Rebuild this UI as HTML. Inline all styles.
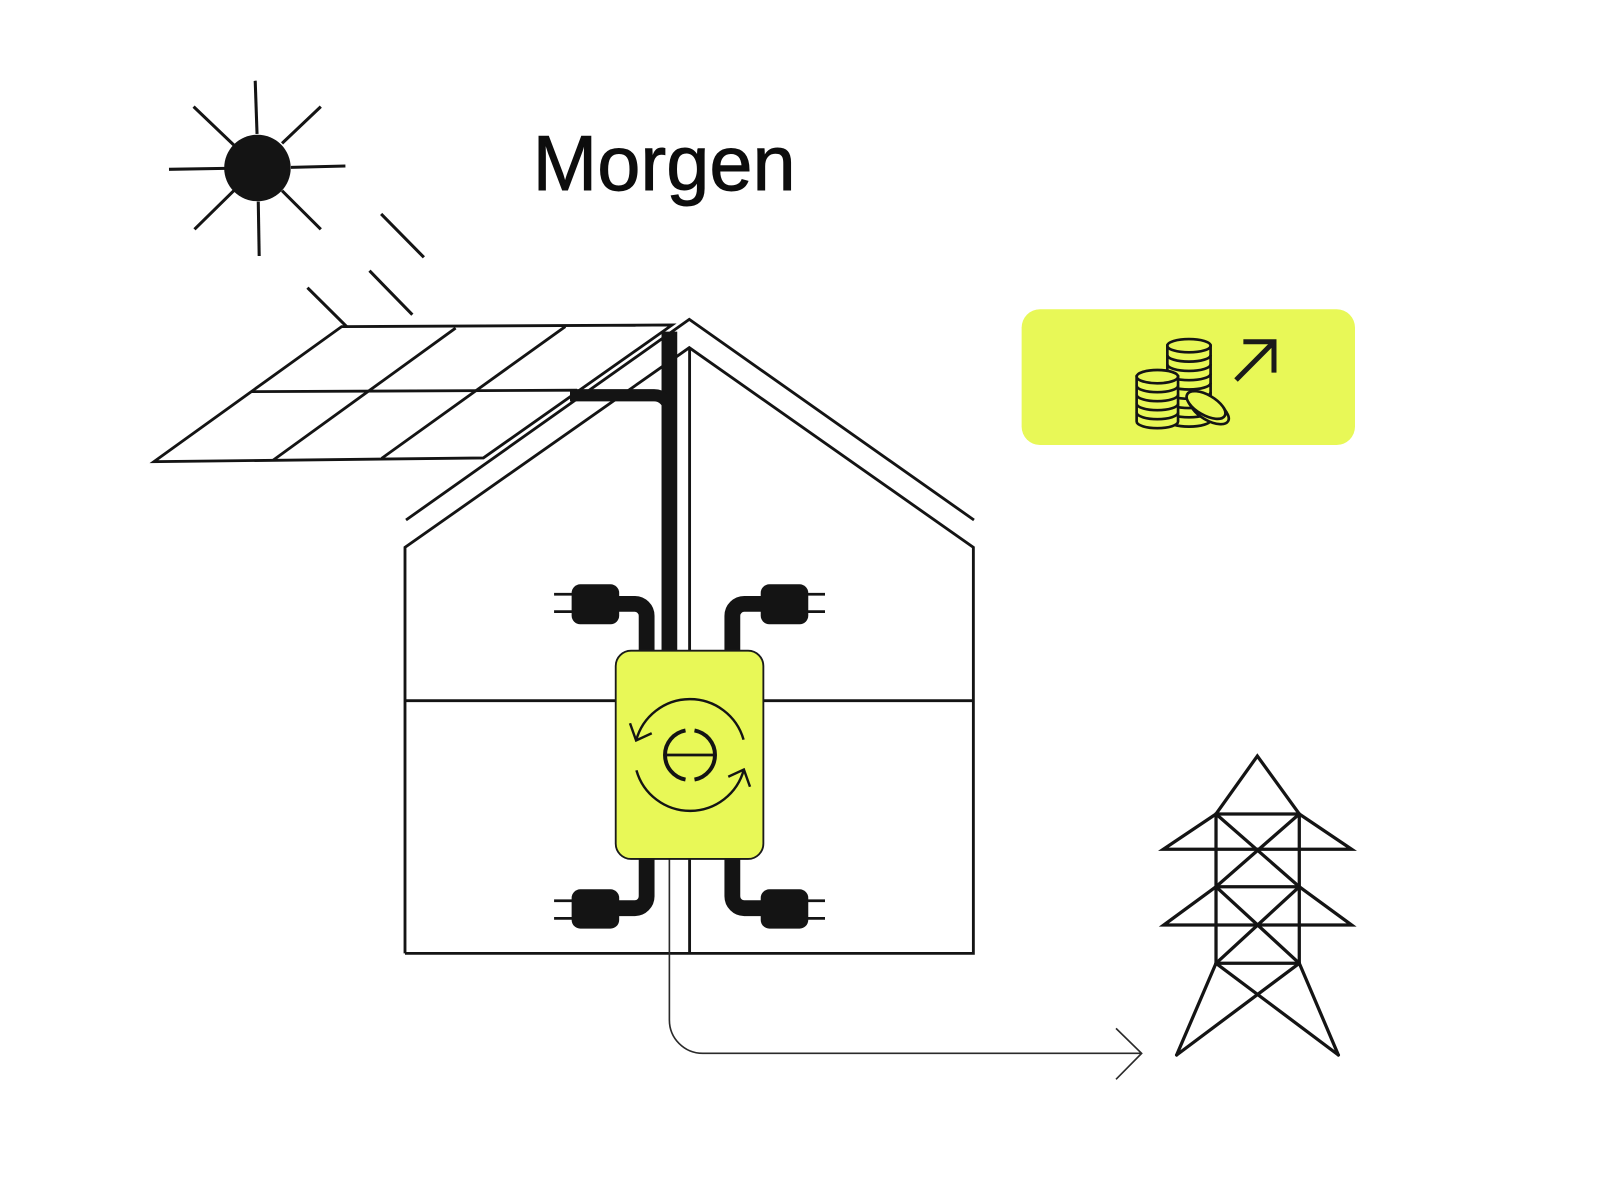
<!DOCTYPE html>
<html>
<head>
<meta charset="utf-8">
<style>
  html,body{margin:0;padding:0;background:#fff;}
  svg{display:block;}
</style>
</head>
<body>
<svg width="1600" height="1200" viewBox="0 0 1568 1176" xmlns="http://www.w3.org/2000/svg">
  <rect x="0" y="0" width="1568" height="1176" fill="#ffffff"/>

  <!-- Title -->
  <text x="522" y="186.2" font-family="Liberation Sans, Arial, sans-serif" font-size="76" fill="#0d0d0d" stroke="#0d0d0d" stroke-width="0.9">Morgen</text>

  <!-- Sun -->
  <g stroke="#141414" stroke-width="3" stroke-linecap="butt" fill="none">
    <line x1="250.1" y1="79.1" x2="251.9" y2="131.3"/>
    <line x1="253.1" y1="197.6" x2="254" y2="250.9"/>
    <line x1="165.6" y1="165.9" x2="220.3" y2="165"/>
    <line x1="285.1" y1="164" x2="338.5" y2="162.7"/>
    <line x1="189.7" y1="104.5" x2="229.1" y2="142.1"/>
    <line x1="314.4" y1="104.5" x2="276.4" y2="140.5"/>
    <line x1="190.6" y1="224.7" x2="229.1" y2="186.9"/>
    <line x1="314.4" y1="224.7" x2="276.4" y2="186.9"/>
    <!-- light dashes -->
    <line x1="373.5" y1="209.7" x2="415.4" y2="252.2"/>
    <line x1="362.1" y1="265.3" x2="404.1" y2="308.4"/>
    <line x1="301.3" y1="281.9" x2="339.7" y2="320"/>
  </g>
  <circle cx="252.3" cy="164.6" r="32.6" fill="#141414"/>

  <!-- Solar panel -->
  <g stroke="#141414" stroke-width="2.8" fill="none" stroke-linejoin="miter">
    <polygon points="334.8,320.1 658.6,318.5 473.7,448.8 150.9,452.4"/>
    <line x1="246" y1="383.8" x2="565.6" y2="382.4"/>
    <line x1="446.5" y1="321.5" x2="267.9" y2="450.8"/>
    <line x1="554" y1="320" x2="374" y2="449.2"/>
  </g>

  <!-- House -->
  <g stroke="#141414" stroke-width="2.8" fill="none" stroke-linejoin="miter">
    <polyline points="397.9,509.6 675.5,313 954.5,509.6"/>
    <polyline points="396.9,934.3 396.9,536.4 675.5,340.7 953.9,536.4 953.9,934.3 396.9,934.3"/>
    <line x1="675.8" y1="340.7" x2="675.8" y2="934.3"/>
    <line x1="396.9" y1="686.7" x2="953.9" y2="686.7"/>
  </g>

  <!-- Export thin line with arrow -->
  <g stroke="#2a2a2a" stroke-width="1.6" fill="none">
    <path d="M656,841 V999.6 A32.7,32.7 0 0 0 688.7,1032.3 H1118.8"/>
    <polyline points="1093.7,1007.8 1118.8,1032.3 1093.7,1057.7"/>
  </g>

  <!-- Cables -->
  <g stroke="#141414" fill="none" stroke-linecap="butt">
    <line x1="656" y1="325" x2="656" y2="640" stroke-width="15.4"/>
    <path d="M558.6,387.4 H641 A15,15 0 0 1 656,402.4 V450" stroke-width="12"/>
    <path d="M600,591.8 H622 A11.7,11.7 0 0 1 633.7,603.5 V642" stroke-width="15.5"/>
    <path d="M752,591.8 H729.4 A11.7,11.7 0 0 0 717.7,603.5 V642" stroke-width="15.5"/>
    <path d="M633.7,838 V878.3 A11.7,11.7 0 0 1 622,890 H600" stroke-width="15.5"/>
    <path d="M717.7,838 V878.3 A11.7,11.7 0 0 0 729.4,890 H752" stroke-width="15.5"/>
  </g>

  <!-- Plugs -->
  <g fill="#141414">
    <rect x="560.2" y="572.6" width="46.6" height="39.2" rx="8.5"/>
    <rect x="745.5" y="572.6" width="46.6" height="39.2" rx="8.5"/>
    <rect x="560.2" y="871.5" width="46.6" height="38.5" rx="8.5"/>
    <rect x="745.5" y="871.5" width="46.6" height="38.5" rx="8.5"/>
  </g>
  <g stroke="#141414" stroke-width="2.7">
    <line x1="543" y1="582.4" x2="562" y2="582.4"/>
    <line x1="543" y1="599.4" x2="562" y2="599.4"/>
    <line x1="790" y1="582.4" x2="808.5" y2="582.4"/>
    <line x1="790" y1="599.4" x2="808.5" y2="599.4"/>
    <line x1="543" y1="882.7" x2="562" y2="882.7"/>
    <line x1="543" y1="900" x2="562" y2="900"/>
    <line x1="790" y1="882.7" x2="808.5" y2="882.7"/>
    <line x1="790" y1="900" x2="808.5" y2="900"/>
  </g>

  <!-- Converter box -->
  <rect x="603.4" y="637.7" width="144.7" height="204.1" rx="15" fill="#e8f857" stroke="#1a1a1a" stroke-width="1.8"/>
  <g stroke="#141414" fill="none" stroke-width="2.4" stroke-linecap="butt" stroke-linejoin="miter">
    <path d="M728.7,724.9 A54.6,54.6 0 0 0 623.4,725.7"/>
    <polyline points="617.4,708.8 623.4,725.7 638.7,718.6"/>
    <path d="M623.7,754.9 A54.6,54.6 0 0 0 729,754.1"/>
    <polyline points="735,771 729,754.1 713.7,761.2"/>
  </g>
  <g stroke="#141414" fill="none" stroke-width="3.9">
    <path d="M680.6,715.8 A24.5,24.5 0 0 1 680.6,764"/>
    <path d="M671.8,764 A24.5,24.5 0 0 1 671.8,715.8"/>
    <line x1="653.3" y1="739.9" x2="699.1" y2="739.9" stroke-width="2.8"/>
  </g>

  <!-- Money box -->
  <rect x="1001.2" y="303.1" width="326.7" height="133" rx="18" fill="#e8f857"/>
  <g stroke="#141414" stroke-width="2.6" fill="#e8f857">
    <!-- back stack -->
    <path d="M1144,338.8 V411.6 A21.2,6.5 0 0 0 1186.4,411.6 V338.8 Z"/>
    <g fill="none">
      <path d="M1144,347.9 A21.2,6.5 0 0 0 1186.4,347.9"/>
      <path d="M1144,357 A21.2,6.5 0 0 0 1186.4,357"/>
      <path d="M1144,366.1 A21.2,6.5 0 0 0 1186.4,366.1"/>
      <path d="M1144,375.2 A21.2,6.5 0 0 0 1186.4,375.2"/>
      <path d="M1144,384.3 A21.2,6.5 0 0 0 1186.4,384.3"/>
      <path d="M1144,393.4 A21.2,6.5 0 0 0 1186.4,393.4"/>
      <path d="M1144,402.5 A21.2,6.5 0 0 0 1186.4,402.5"/>
    </g>
    <ellipse cx="1165.2" cy="338.8" rx="21.2" ry="6.5"/>
    <!-- front stack -->
    <path d="M1113.9,369.1 V413.1 A20.3,6.5 0 0 0 1154.5,413.1 V369.1 Z"/>
    <g fill="none">
      <path d="M1113.9,377.9 A20.3,6.5 0 0 0 1154.5,377.9"/>
      <path d="M1113.9,386.7 A20.3,6.5 0 0 0 1154.5,386.7"/>
      <path d="M1113.9,395.5 A20.3,6.5 0 0 0 1154.5,395.5"/>
      <path d="M1113.9,404.3 A20.3,6.5 0 0 0 1154.5,404.3"/>
    </g>
    <ellipse cx="1134.2" cy="369.1" rx="20.3" ry="6.5"/>
    <!-- tilted coin -->
    <ellipse cx="1185.2" cy="402.1" rx="21.2" ry="9.8" transform="rotate(30 1185.2 402.1)"/>
    <polygon points="1198.9,399.2 1202.2,404.4 1168.2,399.8 1164.9,394.6" stroke="none"/>
    <line x1="1198.9" y1="399.2" x2="1202.2" y2="404.4"/>
    <line x1="1164.9" y1="394.6" x2="1168.2" y2="399.8"/>
    <ellipse cx="1181.9" cy="396.9" rx="21.2" ry="9.8" transform="rotate(30 1181.9 396.9)"/>
  </g>
  <g stroke="#1a1a1a" stroke-width="4.9" fill="none" stroke-linecap="butt" stroke-linejoin="miter">
    <line x1="1211.3" y1="372.4" x2="1247" y2="336.5"/>
    <polyline points="1218.5,334.9 1248.5,334.9 1248.5,365.2"/>
  </g>

  <!-- Transmission tower -->
  <g stroke="#141414" stroke-width="3.2" fill="none" stroke-linejoin="miter" stroke-linecap="round">
    <polyline points="1191.7,797.7 1232.2,740.9 1273.3,797.7"/>
    <line x1="1191.7" y1="797.7" x2="1273.3" y2="797.7"/>
    <polyline points="1191.7,797.7 1140.1,832.3 1324.6,832.3 1273.3,797.7"/>
    <line x1="1191.7" y1="797.7" x2="1191.7" y2="944"/>
    <line x1="1273.3" y1="797.7" x2="1273.3" y2="944"/>
    <line x1="1191.7" y1="797.7" x2="1273.3" y2="869"/>
    <line x1="1273.3" y1="797.7" x2="1191.7" y2="869"/>
    <line x1="1191.7" y1="869" x2="1273.3" y2="869"/>
    <polyline points="1191.7,869 1140.5,906.5 1324.6,906.5 1273.3,869"/>
    <line x1="1191.7" y1="869" x2="1273.3" y2="944"/>
    <line x1="1273.3" y1="869" x2="1191.7" y2="944"/>
    <line x1="1191.7" y1="944" x2="1273.3" y2="944"/>
    <line x1="1191.7" y1="944" x2="1153.1" y2="1033.9"/>
    <line x1="1273.3" y1="944" x2="1311.6" y2="1033.9"/>
    <line x1="1191.7" y1="944" x2="1311.6" y2="1033.9"/>
    <line x1="1273.3" y1="944" x2="1153.1" y2="1033.9"/>
  </g>
</svg>
</body>
</html>
